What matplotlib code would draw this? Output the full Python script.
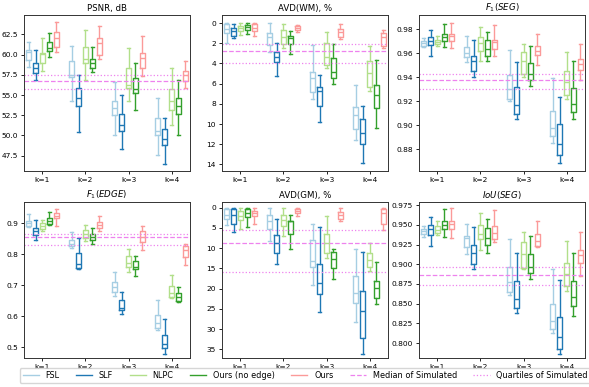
import matplotlib
matplotlib.use("Agg")
import matplotlib.pyplot as plt
from matplotlib.lines import Line2D

methods = ["FSL", "SLF", "NLPC", "Ours (no edge)", "Ours"]
colors = ["#a6cee3", "#1f78b4", "#b2df8a", "#33a02c", "#fb9a99"]
k_labels = ["k=1", "k=2", "k=3", "k=4"]
sim_color = "violet"

# each entry: (whisker low, Q1, median, Q3, whisker high) for k=1..4
PSNR_FSL = [(58.5, 59.3, 60.3, 60.6, 61.5), (54.3, 57.2, 57.5, 59.2, 61.1), (50.1, 52.5, 53.4, 54.3, 56.6), (47.6, 50.1, 50.6, 52.1, 54.6)]
PSNR_SLF = [(56.9, 57.7, 58.3, 59.0, 60.6), (50.4, 53.6, 54.6, 55.9, 57.5), (48.3, 50.6, 51.3, 52.6, 55.0), (46.5, 48.8, 49.5, 50.8, 52.1)]
PSNR_NLPC = [(58.0, 59.0, 60.1, 60.2, 62.0), (56.8, 58.9, 59.5, 60.9, 63.0), (54.3, 55.9, 56.3, 58.4, 60.8), (51.3, 53.2, 54.2, 55.8, 58.4)]
PSNR_NOEDGE = [(59.7, 60.5, 60.8, 61.6, 62.7), (57.8, 58.4, 58.9, 59.5, 60.9), (53.1, 55.2, 55.7, 57.1, 59.0), (50.1, 52.6, 53.6, 54.6, 56.9)]
PSNR_OURS = [(60.3, 61.0, 62.1, 62.8, 64.0), (59.5, 60.0, 61.4, 62.0, 63.5), (57.4, 58.4, 59.6, 60.2, 62.3), (55.9, 56.7, 57.5, 58.0, 59.2)]
PSNR_SIM = (55.7, 56.7, 57.5)

WM_FSL = [(0.0, 0.07, 0.6, 1.0, 1.95), (0.0, 1.0, 1.4, 2.2, 2.9), (2.2, 4.8, 5.45, 6.8, 7.5), (6.1, 8.3, 9.1, 10.5, 11.6)]
WM_SLF = [(0.1, 0.5, 0.8, 1.25, 1.45), (2.0, 2.9, 3.4, 3.9, 5.2), (5.1, 6.3, 6.7, 8.2, 9.8), (8.2, 9.5, 10.9, 12.0, 13.9)]
WM_NLPC = [(0.0, 0.3, 0.5, 0.8, 1.2), (0.05, 0.65, 1.4, 2.05, 2.45), (0.9, 2.0, 3.4, 4.15, 4.4), (2.3, 3.8, 4.9, 6.3, 6.7)]
WM_NOEDGE = [(0.0, 0.15, 0.4, 0.65, 1.1), (0.8, 1.3, 1.45, 2.1, 3.1), (2.1, 3.5, 4.8, 5.45, 6.0), (3.7, 6.1, 7.1, 8.4, 10.4)]
WM_OURS = [(0.0, 0.05, 0.5, 0.75, 1.3), (0.2, 0.3, 0.5, 0.7, 0.9), (0.1, 0.55, 0.9, 1.4, 1.6), (0.65, 1.0, 1.4, 2.3, 2.45)]
WM_SIM = (2.05, 2.77, 4.0)

F1S_FSL = [(0.965, 0.9663, 0.9685, 0.9704, 0.9726), (0.9527, 0.957, 0.960, 0.965, 0.974), (0.920, 0.9215, 0.930, 0.9418, 0.963), (0.8857, 0.8915, 0.8975, 0.9117, 0.9393)]
F1S_SLF = [(0.958, 0.9666, 0.9704, 0.9734, 0.979), (0.9398, 0.9448, 0.9535, 0.9581, 0.971), (0.9051, 0.9092, 0.9166, 0.9316, 0.9527), (0.8683, 0.8756, 0.8846, 0.9008, 0.9234)]
F1S_NLPC = [(0.9658, 0.9677, 0.9693, 0.9713, 0.9745), (0.9535, 0.9622, 0.9685, 0.9734, 0.9816), (0.9398, 0.9426, 0.9535, 0.9609, 0.968), (0.922, 0.9256, 0.9357, 0.9448, 0.9609)]
F1S_NOEDGE = [(0.965, 0.970, 0.9735, 0.976, 0.984), (0.9535, 0.958, 0.9636, 0.9707, 0.9775), (0.9325, 0.9377, 0.9426, 0.9521, 0.9658), (0.9049, 0.9112, 0.918, 0.931, 0.9535)]
F1S_OURS = [(0.9644, 0.970, 0.974, 0.976, 0.985), (0.958, 0.9636, 0.969, 0.9713, 0.9836), (0.950, 0.9584, 0.9617, 0.9658, 0.976), (0.9377, 0.9458, 0.9513, 0.9549, 0.968)]
F1S_SIM = (0.9303, 0.9377, 0.9431)

F1E_FSL = [(0.887, 0.892, 0.900, 0.909, 0.931), (0.819, 0.827, 0.834, 0.846, 0.873), (0.666, 0.679, 0.696, 0.709, 0.742), (0.557, 0.561, 0.578, 0.603, 0.654)]
F1E_SLF = [(0.845, 0.863, 0.876, 0.884, 0.911), (0.752, 0.756, 0.769, 0.803, 0.852), (0.608, 0.619, 0.627, 0.652, 0.677), (0.479, 0.496, 0.510, 0.539, 0.592)]
F1E_NLPC = [(0.874, 0.881, 0.892, 0.900, 0.911), (0.843, 0.854, 0.865, 0.879, 0.896), (0.742, 0.758, 0.772, 0.796, 0.816), (0.660, 0.661, 0.674, 0.698, 0.732)]
F1E_NOEDGE = [(0.896, 0.898, 0.909, 0.916, 0.936), (0.832, 0.846, 0.857, 0.865, 0.885), (0.731, 0.752, 0.760, 0.780, 0.796), (0.646, 0.650, 0.663, 0.674, 0.693)]
F1E_OURS = [(0.890, 0.916, 0.925, 0.934, 0.947), (0.876, 0.884, 0.896, 0.905, 0.925), (0.813, 0.841, 0.856, 0.874, 0.892), (0.764, 0.792, 0.813, 0.827, 0.832)]
F1E_SIM = (0.831, 0.857, 0.867)

GM_FSL = [(0.0, 0.25, 1.7, 2.9, 4.2), (0.0, 1.7, 3.2, 5.3, 8.2), (4.0, 8.0, 13.2, 14.7, 19.2), (10.3, 16.8, 21.0, 23.5, 28.3)]
GM_SLF = [(0.0, 0.25, 1.85, 4.0, 6.1), (2.7, 6.7, 8.7, 11.3, 13.9), (4.8, 13.9, 18.5, 21.4, 25.8), (10.9, 20.6, 25.6, 32.1, 36.0)]
GM_NLPC = [(0.15, 0.8, 2.1, 3.1, 5.3), (0.15, 1.7, 3.1, 4.6, 7.1), (2.1, 6.6, 8.6, 11.2, 12.4), (8.8, 11.2, 12.9, 14.7, 15.7)]
GM_NOEDGE = [(0.0, 0.4, 1.3, 2.3, 4.8), (1.7, 3.2, 3.4, 6.6, 10.1), (10.3, 10.9, 12.6, 15.0, 17.6), (13.4, 18.2, 19.9, 22.4, 23.8)]
GM_OURS = [(0.15, 0.8, 1.3, 2.1, 3.95), (0.0, 0.4, 0.8, 1.4, 2.1), (0.0, 1.1, 1.7, 2.8, 3.4), (0.15, 0.4, 1.3, 4.0, 5.6)]
GM_SIM = (5.5, 8.6, 15.8)

IOU_FSL = [(0.935, 0.9386, 0.9416, 0.9447, 0.949), (0.9135, 0.9221, 0.933, 0.936, 0.9516), (0.8606, 0.865, 0.878, 0.8961, 0.932), (0.8125, 0.8173, 0.8281, 0.8493, 0.894)]
IOU_SLF = [(0.923, 0.9373, 0.9447, 0.9503, 0.9603), (0.894, 0.9005, 0.9148, 0.9243, 0.9468), (0.8385, 0.8441, 0.8559, 0.8788, 0.9148), (0.7865, 0.793, 0.8073, 0.8333, 0.8801)]
IOU_NLPC = [(0.9373, 0.9395, 0.9438, 0.948, 0.9546), (0.9187, 0.932, 0.9386, 0.9503, 0.9655), (0.894, 0.8953, 0.9135, 0.9278, 0.9403), (0.8658, 0.8723, 0.8875, 0.9013, 0.9299)]
IOU_NOEDGE = [(0.9343, 0.9447, 0.9494, 0.9555, 0.9698), (0.9148, 0.9243, 0.9338, 0.946, 0.9577), (0.881, 0.8888, 0.897, 0.9135, 0.9364), (0.8346, 0.8476, 0.858, 0.8788, 0.9148)]
IOU_OURS = [(0.9338, 0.9451, 0.9516, 0.9555, 0.972), (0.9286, 0.9317, 0.9395, 0.948, 0.9689), (0.9213, 0.923, 0.9295, 0.9382, 0.9546), (0.8853, 0.9013, 0.9122, 0.9187, 0.9403)]
IOU_SIM = (0.8736, 0.8866, 0.897)

panels = [
    ("PSNR, dB", [PSNR_FSL, PSNR_SLF, PSNR_NLPC, PSNR_NOEDGE, PSNR_OURS], PSNR_SIM, (45.6, 64.9), None),
    ("AVD(WM), %", [WM_FSL, WM_SLF, WM_NLPC, WM_NOEDGE, WM_OURS], WM_SIM, (14.65, -0.8), [0, 2, 4, 6, 8, 10, 12, 14]),
    (r"$F_1(SEG)$", [F1S_FSL, F1S_SLF, F1S_NLPC, F1S_NOEDGE, F1S_OURS], F1S_SIM, (0.862, 0.9918), None),
    (r"$F_1(EDGE)$", [F1E_FSL, F1E_SLF, F1E_NLPC, F1E_NOEDGE, F1E_OURS], F1E_SIM, (0.465, 0.969), None),
    ("AVD(GM), %", [GM_FSL, GM_SLF, GM_NLPC, GM_NOEDGE, GM_OURS], GM_SIM, (37.1, -1.4), [0, 5, 10, 15, 20, 25, 30, 35]),
    (r"$IoU(SEG)$", [IOU_FSL, IOU_SLF, IOU_NLPC, IOU_NOEDGE, IOU_OURS], IOU_SIM, (0.781, 0.979), None),
]

W, H = 589, 387
fig = plt.figure(figsize=(W / 100, H / 100), dpi=100)

lefts = [24, 222, 419]
tops = [15, 202]
aw, ah = 166, 156
offsets = [-0.32, -0.16, 0.0, 0.16, 0.32]

for idx, (title, series, sim, ylim, yticks) in enumerate(panels):
    r, c = divmod(idx, 3)
    ax = fig.add_axes([lefts[c] / W, 1 - (tops[r] + ah) / H, aw / W, ah / H])
    for mi, (data, col) in enumerate(zip(series, colors)):
        stats = []
        for (wl, q1, med, q3, wh) in data:
            stats.append(dict(whislo=wl, q1=q1, med=med, q3=q3, whishi=wh, fliers=[]))
        pos = [k + 1 + offsets[mi] for k in range(4)]
        lp = dict(color=col, linewidth=1.0)
        ax.bxp(stats, positions=pos, widths=0.12, showfliers=False,
               boxprops=lp, whiskerprops=lp, capprops=lp, medianprops=lp,
               manage_ticks=False)
    ax.axhline(sim[1], color=sim_color, linestyle="--", linewidth=0.9)
    ax.axhline(sim[0], color=sim_color, linestyle=":", linewidth=0.9)
    ax.axhline(sim[2], color=sim_color, linestyle=":", linewidth=0.9)
    ax.set_xlim(0.57, 4.43)
    ax.set_xticks([1, 2, 3, 4])
    ax.set_xticklabels(k_labels)
    ax.set_ylim(*ylim)
    if yticks is not None:
        ax.set_yticks(yticks)
    ax.tick_params(labelsize=5.4, length=2.5, width=0.6, pad=1.8)
    for s in ax.spines.values():
        s.set_linewidth(0.7)
        s.set_color("#333333")
    ax.set_title(title, fontsize=6.2, pad=3)

handles = [Line2D([0], [0], color=col, linewidth=1.0) for col in colors]
handles += [Line2D([0], [0], color=sim_color, linestyle="--", linewidth=0.9),
            Line2D([0], [0], color=sim_color, linestyle=":", linewidth=0.9)]
labels = methods + ["Median of Simulated", "Quartiles of Simulated"]
fig.legend(handles, labels, loc="lower center", bbox_to_anchor=(0.518, 0.0), ncol=7,
           fontsize=5.9, frameon=True, handlelength=2.0, columnspacing=2.0,
           handletextpad=0.8, borderpad=0.35, edgecolor="0.8")

fig.savefig("out.png", dpi=100)
